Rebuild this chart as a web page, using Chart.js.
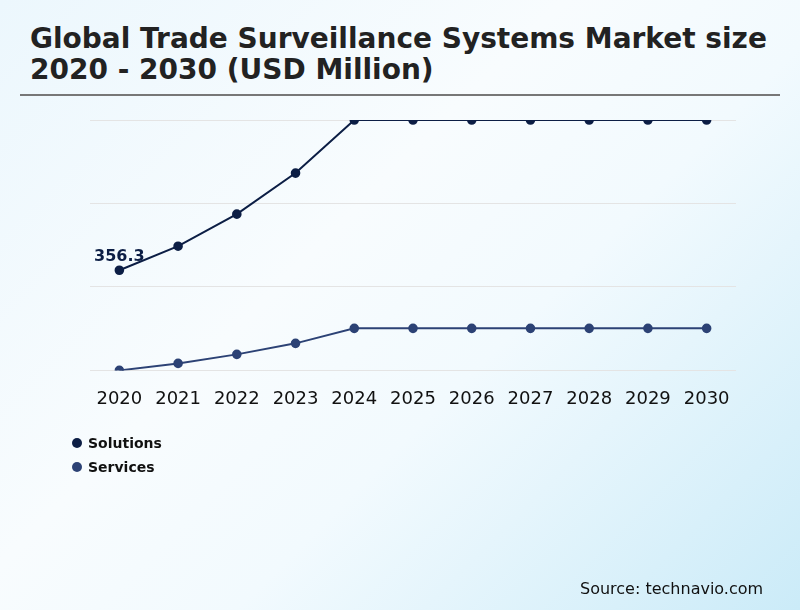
<!DOCTYPE html>
<html>
<head>
<meta charset="utf-8">
<script src="https://cdn.jsdelivr.net/npm/chart.js@4"></script>
<style>
  html, body { margin:0; padding:0; }
  body { width:800px; height:610px; position:relative; overflow:hidden;
    background: linear-gradient(135deg, #ecf7fd 0%, #f8fcfe 40%, #f2fafe 60%, #cbebf8 100%);
    font-family: "DejaVu Sans", sans-serif; }
  #title { position:absolute; left:30px; top:23px; font-weight:bold; font-size:28px; line-height:31px; color:#222; }
  #rule { position:absolute; left:20px; top:94px; width:760px; height:2px; background:#777; }
  #wrap { position:absolute; left:0; top:0; width:800px; height:610px; }
  .leg { position:absolute; left:72px; font-size:14px; font-weight:bold; color:#111; }
  .leg span.dot { display:inline-block; width:10px; height:10px; border-radius:50%; margin-right:6px; vertical-align:0px; }
  #src { position:absolute; left:580px; top:579px; font-size:16px; color:#111; }
</style>
</head>
<body>
<div id="title">Global Trade Surveillance Systems Market size<br>2020 - 2030 (USD Million)</div>
<div id="rule"></div>
<div id="wrap"><canvas id="c" width="800" height="610"></canvas></div>
<div class="leg" style="top:435px"><span class="dot" style="background:#0c1e45"></span>Solutions</div>
<div class="leg" style="top:459px"><span class="dot" style="background:#2c4275"></span>Services</div>
<div id="src">Source: technavio.com</div>
<script>
const years = ["2020","2021","2022","2023","2024","2025","2026","2027","2028","2029","2030"];
const solutions = [356.3, 416.3, 496.3, 598.8, 731.3, 731.3, 731.3, 731.3, 731.3, 731.3, 731.3];
const services  = [106.3, 123.8, 146.3, 173.8, 211.3, 211.3, 211.3, 211.3, 211.3, 211.3, 211.3];
const seriesNames = ["Solutions", "Services"];
const seriesColors = ["#0c1e45", "#2c4275"];
const yMin = 106.3, yMax = 731.3;

const labelPlugin = {
  id: 'firstLabel',
  afterDatasetsDraw(chart) {
    const meta = chart.getDatasetMeta(0);
    const p = meta.data[0];
    const ctx = chart.ctx;
    ctx.save();
    ctx.font = 'bold 16px "DejaVu Sans"';
    ctx.fillStyle = seriesColors[0];
    ctx.textAlign = 'center';
    ctx.textBaseline = 'alphabetic';
    ctx.fillText(String(solutions[0]), p.x, p.y - 9);
    ctx.restore();
  }
};

new Chart(document.getElementById('c'), {
  type: 'line',
  data: {
    labels: years,
    datasets: [
      { label: seriesNames[0], data: solutions, borderColor: seriesColors[0], backgroundColor: seriesColors[0],
        borderWidth: 2, pointRadius: 3.8, pointHoverRadius: 3.8, tension: 0, fill: false },
      { label: seriesNames[1], data: services, borderColor: seriesColors[1], backgroundColor: seriesColors[1],
        borderWidth: 2, pointRadius: 3.8, pointHoverRadius: 3.8, tension: 0, fill: false }
    ]
  },
  options: {
    responsive: false,
    animation: false,
    layout: { padding: { left: 90, right: 64, top: 120, bottom: 190 } },
    plugins: { legend: { display: false }, tooltip: { enabled: false } },
    scales: {
      x: {
        offset: true,
        grid: { display: false },
        border: { display: false },
        ticks: { color: '#111', font: { family: 'DejaVu Sans', size: 18 }, padding: 10, maxRotation: 0 }
      },
      y: {
        min: yMin, max: yMax,
        ticks: { display: false, stepSize: (yMax - yMin) / 3 },
        grid: { color: '#e4e4e4', lineWidth: 1, drawTicks: false },
        border: { display: false }
      }
    }
  },
  plugins: [labelPlugin]
});
</script>
</body>
</html>
